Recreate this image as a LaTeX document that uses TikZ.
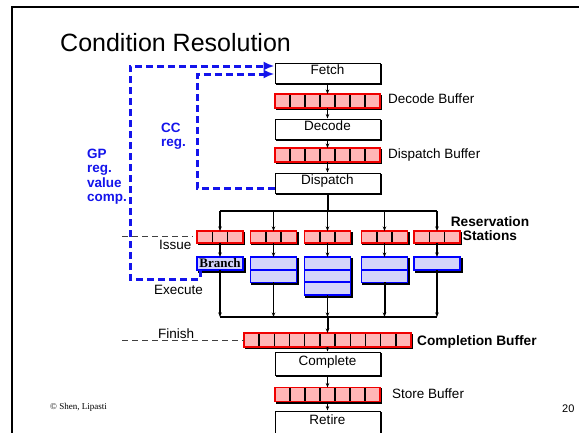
\documentclass[tikz,border=0pt]{standalone}
\usepackage{fontspec}
\setmainfont{Liberation Sans}
\newfontfamily\timesfont{Liberation Serif}
\usetikzlibrary{arrows.meta,calc,shadows}

\definecolor{bufpink}{RGB}{255,182,182}
\definecolor{bufred}{RGB}{240,0,0}
\definecolor{fulav}{RGB}{212,212,250}
\definecolor{fublue}{RGB}{0,0,255}
\definecolor{pathblue}{RGB}{20,20,235}

\newcommand\fsz[1]{\fontsize{#1}{#1}\selectfont}
% vertical black dividers inside a buffer node: #1 = node, #2 = number of cells
\newcommand\cellrules[2]{%
  \pgfmathtruncatemacro\lastcell{#2-1}%
  \foreach \ci in {1,...,\lastcell}{%
    \draw[line width=1.5pt,black,shorten <=0.8pt,shorten >=0.8pt]
      ($(#1.north west)!\ci/#2!(#1.north east)$) -- ($(#1.south west)!\ci/#2!(#1.south east)$);}}
% horizontal blue dividers inside a functional unit: #1 = node, #2 = number of rows
\newcommand\rowrules[2]{%
  \pgfmathtruncatemacro\lastrow{#2-1}%
  \foreach \ci in {1,...,\lastrow}{%
    \draw[line width=1.8pt,fublue]
      ($(#1.north west)!\ci/#2!(#1.south west)$) -- ($(#1.north east)!\ci/#2!(#1.south east)$);}}

\begin{document}
\begin{tikzpicture}[x=1pt,y=-1pt,
  shadowed/.style={copy shadow={shadow xshift=1.6pt,shadow yshift=-1.6pt,fill=black,draw=black}},
  stage/.style={draw=black,line width=1pt,fill=white,minimum width=105,minimum height=20,
    inner sep=0pt,font=\fsz{13.5},text height=9.5pt,text depth=6.5pt,shadowed},
  buf/.style={draw=bufred,line width=1.6pt,fill=bufpink,minimum height=14,inner sep=0pt,
    outer sep=0pt,shadowed},
  fu/.style={draw=fublue,line width=1.8pt,fill=fulav,minimum width=46,inner sep=0pt,
    outer sep=0pt,anchor=north,shadowed},
  arr/.style={-{Stealth[length=4.5pt,width=3.5pt]},line width=1.1pt},
  bus/.style={line width=2pt},
  bluedash/.style={pathblue,line width=3pt,dash pattern=on 7pt off 4pt,
    -{Latex[length=11pt,width=9pt]}},
  stagedash/.style={black!75,line width=0.8pt,dash pattern=on 6pt off 4pt},
  lbl/.style={anchor=base west,inner sep=0pt,font=\fsz{13.5}},
  blbl/.style={anchor=base west,inner sep=0pt,font=\fsz{13.7}\bfseries},
  bluelbl/.style={anchor=north west,inner sep=0pt,align=left,text=pathblue,
    font=\fontsize{13.5}{14.3}\selectfont\bfseries}]

\useasboundingbox (0,0) rectangle (579,432);

% slide frame
\draw[line width=2.2pt] (12,440) -- (12,7) -- (590,7);

% title
\node[anchor=base west,inner sep=0pt,font=\fsz{25}] (title) at (60,51) {Condition Resolution};

% front end
\node[stage] (fetch) at (327.5,73) {Fetch};
\node[buf,minimum width=105] (decbuf) at (327.5,101) {};
\node[stage] (decode) at (327.5,129) {Decode};
\node[buf,minimum width=105] (dispbuf) at (327.5,155) {};
\node[stage] (dispatch) at (327.5,183) {Dispatch};
\cellrules{decbuf}{7}
\cellrules{dispbuf}{7}

\draw[arr] (fetch) -- (decbuf);
\draw[arr] (decbuf) -- (decode);
\draw[arr] (decode) -- (dispbuf);
\draw[arr] (dispbuf) -- (dispatch);

% reservation stations
\foreach \nm/\cx in {rs1/220,rs2/273.5,rs3/327.5,rs4/384.5,rs5/437}{
  \node[buf,minimum width=46,minimum height=12] (\nm) at (\cx,237) {};
  \cellrules{\nm}{3}
}

% functional units
\node[fu,minimum height=13] (fu1) at (220,257) {\timesfont\bfseries\fsz{13}Branch};
\node[fu,minimum height=25.4] (fu2) at (273.5,257) {};
\node[fu,minimum height=38] (fu3) at (327.5,257) {};
\node[fu,minimum height=25.4] (fu4) at (384.5,257) {};
\node[fu,minimum height=13] (fu5) at (437,257) {};
\rowrules{fu2}{2}
\rowrules{fu3}{3}
\rowrules{fu4}{2}

% issue bus
\coordinate (busy) at (0,211);
\coordinate (bmid) at (dispatch.south |- busy);
\foreach \i in {1,...,5}{\coordinate (b\i) at (rs\i.north |- busy);}
\draw[bus] (dispatch.south) -- (bmid);
\draw[bus] (b1) -- (b5);
\foreach \i in {1,...,5}{
  \draw[arr,line width=1.5pt] (b\i) -- (rs\i.north);
  \draw[arr] (rs\i) -- (fu\i);
}

% finish bus
\coordinate (joiny) at (0,317);
\foreach \i/\lw in {1/1.1,2/1.1,3/1.1,4/2,5/2}{
  \coordinate (j\i) at (rs\i.south |- joiny);
  \draw[arr,line width=\lw pt] (fu\i.south) -- (j\i);
}
\draw[line width=1.2pt] (j1) -- (j5);

% back end
\node[buf,minimum width=167] (compbuf) at (327.5,340) {};
\node[stage,minimum height=23] (complete) at (327.5,363.5) {Complete};
\node[buf,minimum width=105] (storebuf) at (327.5,394.5) {};
\node[stage,minimum height=23] (retire) at (327.5,422.5) {Retire};
\cellrules{compbuf}{11}
\cellrules{storebuf}{7}

\draw[arr,line width=2pt] (j3) -- (compbuf.north);
\draw[arr] (compbuf) -- (complete);
\draw[arr] (complete) -- (storebuf);
\draw[arr] (storebuf) -- (retire);

% resolution feedback paths
\coordinate (gpout) at ($(fu1.south west)+(3,0)$);
\coordinate (gpa) at ($(gpout)+(0,9)$);
\coordinate (gpup) at (130,66);
\path (fetch.west) ++(0,-7) coordinate (gpin);
\draw[bluedash] (gpout) -- (gpa) -| (gpup) -- (gpin);

\path (dispatch.west) ++(0,5) coordinate (ccout);
\coordinate (ccup) at (197,74);
\path (fetch.west) ++(0,1) coordinate (ccin);
\draw[bluedash] (ccout) -| (ccup) -- (ccin);

% stage boundaries
\coordinate (issuel) at (122,236);
\coordinate (issuer) at (193,236);
\draw[stagedash] (issuel) -- (issuer);
\coordinate (finl) at (122,340);
\draw[stagedash] (finl) -- (compbuf.west);

% labels
\node[lbl] (lbdec) at (388,103) {Decode Buffer};
\node[lbl] (lbdisp) at (388,158) {Dispatch Buffer};
\node[lbl] (lbstore) at (392,398) {Store Buffer};
\node[blbl] (lbcomp) at (417,345) {Completion Buffer};
\node[anchor=north,inner sep=0pt,align=center,font=\fontsize{13.7}{14}\selectfont\bfseries]
  (lbrs) at (490,216) {Reservation\\Stations};
\node[lbl] (lbissue) at (159,249) {Issue};
\node[lbl] (lbexec) at (154,294) {Execute};
\node[lbl] (lbfin) at (158,338) {Finish};
\node[bluelbl] (lbcc) at (161,123) {CC\\reg.};
\node[bluelbl] (lbgp) at (87,149) {GP\\reg.\\value\\comp.};

% footer
\node[anchor=base west,inner sep=0pt,font=\fsz{11}] (pageno) at (562,412) {20};
\node[anchor=base west,inner sep=0pt,font=\timesfont\fsz{9}] (credit) at (50,409) {© Shen, Lipasti};
\end{tikzpicture}
\end{document}
